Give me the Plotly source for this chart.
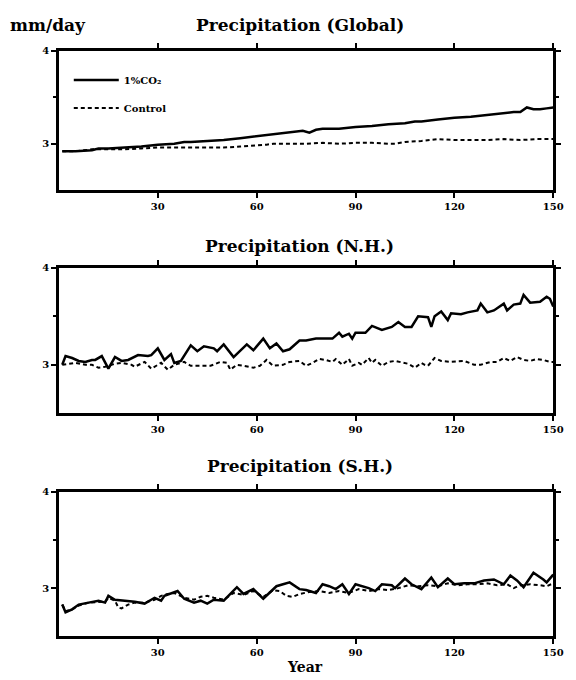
import plotly.graph_objects as go

# ---------------- data ----------------
glob_co2_years = [1,5,10,12,15,20,25,30,35,38,40,45,50,55,60,65,70,74,76,78,
                  80,85,90,95,100,105,108,110,115,120,125,130,135,138,140,142,144,146,148,150]
glob_co2_vals = [2.92,2.92,2.93,2.95,2.95,2.96,2.97,2.99,3.00,3.02,3.02,3.03,3.04,3.06,3.08,3.10,3.12,3.14,3.12,3.15,
                 3.16,3.16,3.18,3.19,3.21,3.22,3.24,3.24,3.26,3.28,3.29,3.31,3.33,3.34,3.34,3.39,3.37,3.37,3.38,3.39]
glob_ctl_years = [1,5,10,15,20,25,30,35,40,45,50,55,60,63,65,70,75,80,85,90,
                  95,100,102,105,110,115,120,125,130,135,140,145,150]
glob_ctl_vals = [2.92,2.92,2.94,2.94,2.94,2.95,2.96,2.96,2.96,2.96,2.96,2.97,2.98,2.99,3.00,3.00,3.00,3.01,3.00,3.01,
                 3.01,3.00,3.00,3.02,3.03,3.05,3.04,3.04,3.04,3.05,3.04,3.05,3.05]

nh_co2_years = [1,2,4,6,8,10,11,13,15,17,19,21,24,27,28,30,32,34,35,37,
                40,42,44,47,48,50,53,57,59,62,64,66,68,70,73,75,78,83,85,86,
                88,89,90,93,95,98,101,103,105,107,109,112,113,114,116,118,119,122,124,127,
                128,130,132,135,136,138,140,141,143,146,148,149,150]
nh_co2_vals = [3.00,3.09,3.07,3.04,3.03,3.05,3.05,3.09,2.96,3.08,3.04,3.05,3.10,3.09,3.10,3.17,3.05,3.11,3.02,3.04,
               3.20,3.14,3.19,3.17,3.14,3.21,3.08,3.21,3.15,3.27,3.17,3.22,3.14,3.16,3.25,3.25,3.27,3.27,3.33,3.29,
               3.32,3.27,3.33,3.33,3.40,3.36,3.39,3.44,3.39,3.39,3.50,3.49,3.39,3.50,3.55,3.46,3.53,3.52,3.54,3.56,
               3.63,3.54,3.56,3.63,3.56,3.62,3.63,3.72,3.64,3.65,3.70,3.68,3.60]
nh_ctl_years = [1,5,8,10,12,14,17,19,22,23,26,28,31,33,35,38,40,43,46,49,
                51,52,54,56,59,61,63,65,68,70,73,75,77,79,81,83,84,86,87,88,
                89,91,92,94,95,96,98,100,102,105,106,108,110,111,112,114,116,119,123,126,
                128,131,133,135,137,139,141,143,145,147,149,150]
nh_ctl_vals = [3.00,3.02,3.00,3.00,2.97,2.98,3.01,3.02,3.00,2.98,3.03,2.96,3.02,2.95,3.00,3.03,2.99,2.99,2.99,3.03,
               3.02,2.95,3.00,2.99,2.97,2.99,3.05,2.99,3.00,3.03,3.04,2.99,3.02,3.06,3.05,3.03,3.06,3.00,3.03,3.06,
               2.99,3.02,3.00,3.07,3.02,3.05,2.99,3.03,3.04,3.02,3.01,2.97,3.02,3.00,2.99,3.07,3.04,3.03,3.04,3.00,
               3.00,3.03,3.03,3.07,3.04,3.08,3.05,3.04,3.06,3.05,3.03,3.03]

sh_co2_years = [1,2,4,6,9,12,14,15,17,19,20,23,26,28,29,31,32,36,38,41,
                43,45,47,50,54,56,59,62,66,68,70,73,75,78,80,82,84,86,88,90,
                92,94,96,98,101,102,105,107,110,113,115,118,120,123,126,129,132,135,137,139,
                141,144,147,148,150]
sh_co2_vals = [2.83,2.75,2.78,2.83,2.85,2.87,2.85,2.92,2.88,2.87,2.87,2.86,2.84,2.88,2.90,2.87,2.92,2.97,2.89,2.85,
               2.87,2.84,2.88,2.87,3.01,2.94,2.99,2.89,3.02,3.04,3.06,2.99,2.98,2.95,3.04,3.02,2.99,3.04,2.94,3.04,
               3.02,3.00,2.97,3.04,3.03,3.00,3.10,3.04,2.99,3.11,3.01,3.10,3.04,3.05,3.05,3.08,3.09,3.04,3.13,3.08,
               3.01,3.16,3.09,3.06,3.14]
sh_ctl_years = [1,2,4,6,9,12,14,15,17,18,19,21,23,26,29,31,33,35,38,41,
                43,45,47,50,53,56,59,62,65,67,69,71,73,76,79,82,85,88,91,94,
                97,100,103,106,109,112,115,118,121,124,127,130,133,136,138,140,143,146,148,150]
sh_ctl_vals = [2.83,2.76,2.78,2.82,2.85,2.86,2.86,2.90,2.87,2.80,2.79,2.83,2.85,2.85,2.88,2.92,2.94,2.95,2.90,2.88,
               2.91,2.92,2.90,2.88,2.95,2.93,2.97,2.91,2.98,2.97,2.92,2.91,2.94,2.96,2.97,2.95,2.97,2.95,2.99,2.97,
               2.99,2.98,3.00,3.03,3.02,3.03,3.02,3.05,3.03,3.04,3.04,3.05,3.03,3.04,3.00,3.03,3.04,3.03,3.02,3.05]

panel_titles = ["Precipitation (Global)", "Precipitation (N.H.)", "Precipitation (S.H.)"]
series_names = ["1%CO₂", "Control"]
x_ticks = [30, 60, 90, 120, 150]
y_ticks = [3, 4]

# ---------------- figure ----------------
W, H = 576, 680
FONT = "DejaVu Serif"


def px(x):
    return x / W


def py(y):
    return 1 - y / H


panels = [
    (glob_co2_years, glob_co2_vals, glob_ctl_years, glob_ctl_vals),
    (nh_co2_years, nh_co2_vals, nh_ctl_years, nh_ctl_vals),
    (sh_co2_years, sh_co2_vals, sh_ctl_years, sh_ctl_vals),
]
boxes = [(45, 186), (264, 411), (490, 636)]   # (top, bottom) in window pixels
x_dom = [px(60), px(563)]
title_y = [19, 242, 464]

fig = go.Figure()
layout = dict(
    width=W, height=H,
    margin=dict(l=0, r=0, t=0, b=0),
    paper_bgcolor="white", plot_bgcolor="white",
    showlegend=True,
    legend=dict(x=px(70), y=py(60), xanchor="left", yanchor="top",
                bgcolor="rgba(0,0,0,0)", tracegroupgap=9, itemwidth=45,
                font=dict(family=FONT, size=10, color="black", weight="bold")),
    font=dict(family=FONT, color="black"),
)
annotations = []
for i, (cy, cv, ky, kv) in enumerate(panels):
    n = "" if i == 0 else str(i + 1)
    xa, ya = "x" + n, "y" + n
    fig.add_trace(go.Scatter(x=cy, y=cv, mode="lines", name=series_names[0],
                             xaxis=xa, yaxis=ya, showlegend=(i == 0), legendgroup="a",
                             line=dict(color="black", width=2.5)))
    fig.add_trace(go.Scatter(x=ky, y=kv, mode="lines", name=series_names[1],
                             xaxis=xa, yaxis=ya, showlegend=(i == 0), legendgroup="b",
                             line=dict(color="black", width=2, dash="4px,3px")))
    top, bot = boxes[i]
    axis_common = dict(showline=True, linewidth=2.5, linecolor="black", mirror="ticks",
                       showgrid=False, zeroline=False, ticks="outside", ticklen=5,
                       tickwidth=1.5, tickcolor="black", ticklabeloverflow="allow",
                       tickfont=dict(family=FONT, size=10, color="black", weight="bold"))
    layout["xaxis" + n] = dict(axis_common, domain=x_dom, range=[0, 150], tickvals=x_ticks,
                               anchor=ya)
    layout["yaxis" + n] = dict(axis_common, domain=[py(bot), py(top)], range=[2.5, 4],
                               tickvals=y_ticks, anchor=xa,
                               minor=dict(tickvals=[3.5], ticklen=3, tickcolor="black", ticks="outside"))
    annotations.append(dict(text="<b>" + panel_titles[i] + "</b>", xref="paper", yref="paper",
                            x=px(305), y=py(title_y[i]), xanchor="center", yanchor="middle",
                            showarrow=False, font=dict(family=FONT, size=17, color="black")))

annotations.append(dict(text="<b>mm/day</b>", xref="paper", yref="paper",
                        x=px(8), y=py(19), xanchor="left", yanchor="middle",
                        showarrow=False, font=dict(family=FONT, size=17, color="black")))
annotations.append(dict(text="<b>Year</b>", xref="paper", yref="paper",
                        x=px(310), y=py(667), xanchor="center", yanchor="middle",
                        showarrow=False, font=dict(family=FONT, size=14, color="black")))
layout["annotations"] = annotations
fig.update_layout(**layout)

# remove the default 8px page margin so the figure fills the window exactly
fig.write_html("out.html", config={"displayModeBar": False},
               post_script="document.body.style.margin='0';document.body.style.overflow='hidden';")
